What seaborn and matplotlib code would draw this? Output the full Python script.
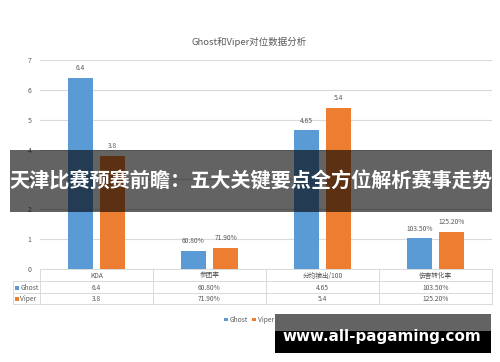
import matplotlib
matplotlib.use("Agg")
import matplotlib.pyplot as plt
import seaborn as sns
import pandas as pd
from matplotlib.patches import Rectangle

categories = ["KDA", "参团率", "分均输出/100", "伤害转化率"]
series = ["Ghost", "Viper"]
ghost_vals = [6.4, 0.608, 4.65, 1.035]
viper_vals = [3.8, 0.719, 5.4, 1.252]
ghost_labels = ["6.4", "60.80%", "4.65", "103.50%"]
viper_labels = ["3.8", "71.90%", "5.4", "125.20%"]
yticks = [0, 1, 2, 3, 4, 5, 6, 7]
title = "Ghost和Viper对位数据分析"
banner = "天津比赛预赛前瞻：五大关键要点全方位解析赛事走势"
watermark = "www.all-pagaming.com"
colors = ["#5B9BD5", "#ED7D31"]

df = pd.DataFrame({
    "cat": categories * 2,
    "series": [series[0]] * 4 + [series[1]] * 4,
    "val": ghost_vals + viper_vals,
})

sns.set_theme(style="white")
plt.rcParams["font.family"] = ["Noto Sans CJK SC", "DejaVu Sans"]

W, H = 500, 362
fig = plt.figure(figsize=(W / 100, H / 100), dpi=100)
fig.patch.set_facecolor("white")

def fx(px):
    return px / W

def fy(py):
    return 1 - py / H

# main axes: x 40..492, y 60(=7)..269(=0)
ax = fig.add_axes([fx(40), fy(269), fx(492) - fx(40), fy(60) - fy(269)])
sns.barplot(data=df, x="cat", y="val", hue="series", palette=colors,
            width=0.57, gap=0.22, ax=ax, legend=False, saturation=1,
            edgecolor="none")
ax.set_xlim(-0.5, 3.5)
ax.set_ylim(0, 7)
ax.set_yticks(yticks)
ax.set_yticklabels([str(t) for t in yticks], fontsize=5, color="#595959")
ax.tick_params(axis="y", length=0, pad=6)
ax.set_xticks([])
ax.set_xlabel("")
ax.set_ylabel("")
for s in ax.spines.values():
    s.set_visible(False)
ax.grid(axis="y", color="#d9d9d9", linewidth=0.8)
ax.set_axisbelow(True)
for cont, labs in zip(ax.containers, [ghost_labels, viper_labels]):
    ax.bar_label(cont, labels=labs, padding=4, fontsize=4.8, color="#595959")

# overlay axes in pixel coordinates
ov = fig.add_axes([0, 0, 1, 1], zorder=10)
ov.set_xlim(0, W)
ov.set_ylim(H, 0)
ov.axis("off")
ov.patch.set_alpha(0)

ov.text(249, 42, title, ha="center", va="center", fontsize=6.8, color="#595959")

# data table
lc = "#d9d9d9"
cols = [40, 153, 266, 379, 492]
rows = [269, 281, 293, 304]
ov.plot([40, 492], [269, 269], color=lc, lw=0.7)
for r in rows[1:]:
    ov.plot([13, 492], [r, r], color=lc, lw=0.7)
ov.plot([13, 13], [281, 304], color=lc, lw=0.7)
for c in cols:
    ov.plot([c, c], [269, 304], color=lc, lw=0.7)
tc = "#595959"
for i, cat in enumerate(categories):
    cx = (cols[i] + cols[i + 1]) / 2
    ov.text(cx, 275.5, cat, ha="center", va="center", fontsize=4.8, color=tc)
    ov.text(cx, 287.5, ghost_labels[i], ha="center", va="center", fontsize=4.8, color=tc)
    ov.text(cx, 299, viper_labels[i], ha="center", va="center", fontsize=4.8, color=tc)
for j, (name, col, ry) in enumerate(zip(series, colors, [287.5, 299])):
    ov.add_patch(Rectangle((15, ry - 2), 4, 4, color=col, lw=0))
    ov.text(20.5, ry, name, ha="left", va="center", fontsize=4.8, color=tc)

# legend
for name, col, x0 in zip(series, colors, [224, 252]):
    ov.add_patch(Rectangle((x0, 317.5), 3.5, 3.5, color=col, lw=0))
    ov.text(x0 + 5.5, 319.5, name, ha="left", va="center", fontsize=4.8, color=tc)

# banner overlay
ov.add_patch(Rectangle((10, 150), 482, 62, color="black", alpha=0.61, lw=0))
ov.text(251, 181, banner, ha="center", va="center", fontsize=14.5,
        color="white", fontweight="bold")

# watermark
ov.add_patch(Rectangle((275, 314), 216, 17, color="black", alpha=0.61, lw=0))
ov.add_patch(Rectangle((275, 331), 216, 22, color="black", lw=0))
ov.text(382, 337, watermark, ha="center", va="center", fontsize=10.9,
        color="white", fontweight="bold", family=["DejaVu Sans"])

fig.savefig("out.png", dpi=100, facecolor="white")
